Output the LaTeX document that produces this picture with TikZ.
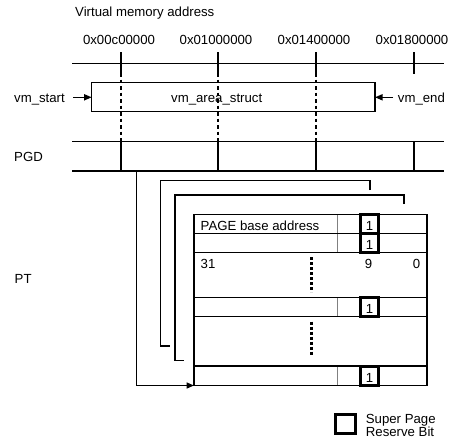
\documentclass[tikz,border=0pt]{standalone}
\usepackage{fontspec}
\setmainfont{Liberation Sans}
\usetikzlibrary{arrows.meta}
\begin{document}
\begin{tikzpicture}[x=1pt,y=-1pt,
  lbl/.style={inner sep=0pt,font=\fontsize{13.2}{16}\selectfont},
  rule/.style={line width=1.5pt,line cap=rect},
  wire/.style={line width=1.5pt},
  guide/.style={line width=1.5pt,dash pattern=on 3.5pt off 3pt},
  dots/.style={line width=2.8pt,dash pattern=on 3pt off 2pt},
  sbit/.style={line width=3pt},
  divider/.style={line width=1pt,gray},
  tip/.style={-{Triangle[length=7.5pt,width=6pt]}}]

\useasboundingbox (0,0) rectangle (454,444);

% virtual address axis
\node[lbl,anchor=base west] (title) at (75,16.5) {Virtual memory address};
\foreach \x/\t [count=\i] in {121/0x00c00000,218/0x01000000,316/0x01400000,414/0x01800000}{
  \node[lbl,anchor=base] (addr\i) at (\x-2,45) {\t};
  \draw[rule] (\x,53) -- (\x,73);
}
\draw[rule] (73,63.5) -- (443,63.5);
\foreach \x in {121,218,316}{
  \draw[guide] (\x,73) -- (\x,141.5);
}

% vm_area_struct
\draw[rule] (91.7,82.7) rectangle (375,111.7);
\node[lbl,anchor=base] (vmarea) at (216.7,102.5) {vm\_area\_struct};
\node[lbl,anchor=base west] (vmstart) at (14,102.5) {vm\_start};
\node[lbl,anchor=base west] (vmend) at (397.7,102.5) {vm\_end};
\coordinate (vmstart-tail) at (73,97.3);
\coordinate (vmbox-w) at (91.7,97.3);
\coordinate (vmend-tail) at (393,97.3);
\coordinate (vmbox-e) at (375,97.3);
\draw[wire,tip] (vmstart-tail) -- (vmbox-w);
\draw[wire,tip] (vmend-tail) -- (vmbox-e);

% page global directory
\node[lbl,anchor=base west] (pgd) at (14,161.5) {PGD};
\draw[rule] (73,141.5) -- (443,141.5);
\draw[rule] (73,171) -- (443,171);
\foreach \x in {121,218,316,414}{
  \draw[rule] (\x,141.5) -- (\x,171);
}

% page table
\node[lbl,anchor=base west] (pt) at (14.5,283) {PT};
\foreach \a/\b in {214.5/233.5,233.5/252.5,297.5/316.5,366/385.5}{
  \draw[divider] (337,\a) -- (337,\b);
}
\foreach \y in {214.5,233.5,252.5,297.5,316.5,366,385.5}{
  \draw[rule] (194,\y) -- (427,\y);
}
\draw[rule] (194,214.5) -- (194,385.5);
\draw[rule] (427,214.5) -- (427,385.5);
\foreach \a/\b [count=\i] in {214.5/233.5,233.5/252.5,297.5/316.5,366/385.5}{
  \draw[sbit] (360.4,\a) rectangle (378.6,\b);
  \node[lbl,anchor=base] (bit\i) at (369.5,\b-3.5) {1};
}
\node[lbl,anchor=base west] (pagebase) at (200.5,230) {PAGE base address};
\node[lbl,anchor=base west] (b31) at (200.5,268.5) {31};
\node[lbl,anchor=base] (b9) at (368.5,268.5) {9};
\node[lbl,anchor=base east] (b0) at (420.5,268.5) {0};
\draw[dots] (311.7,257) -- (311.7,292);
\draw[dots] (311.7,321.7) -- (311.7,355);

% pointers from the directory into the page tables
\coordinate (pgd-out) at (136.5,171);
\coordinate (pt-last) at (194,385.5);
\draw[wire,tip] (pgd-out) |- (pt-last);
\coordinate (p2-top) at (370,190);
\coordinate (p2-end) at (170,346);
\draw[wire] (p2-top) -- (370,180.5) -| (160.5,346) -- (p2-end);
\coordinate (p3-top) at (404,204);
\coordinate (p3-end) at (184,360.5);
\draw[wire] (p3-top) -- (404,195) -| (175,360.5) -- (p3-end);

% legend
\draw[sbit] (335.5,414.2) rectangle (355.5,433.5);
\node[lbl,anchor=base west] (leg1) at (365.7,423) {Super Page};
\node[lbl,anchor=base west] (leg2) at (365.7,436) {Reserve Bit};
\end{tikzpicture}
\end{document}
